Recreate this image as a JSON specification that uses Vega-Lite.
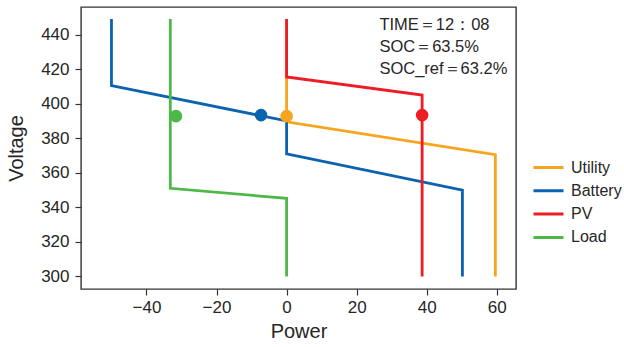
{
  "$schema": "https://vega.github.io/schema/vega-lite/v6.json",
  "width": 435,
  "height": 282,
  "autosize": "none",
  "padding": {"left": 81, "top": 7, "right": 108, "bottom": 58},
  "config": {
    "font": "Liberation Sans",
    "view": {"stroke": "#333333", "strokeWidth": 1.4},
    "axis": {
      "grid": false,
      "domain": false,
      "tickColor": "#333333",
      "tickSize": 6,
      "tickWidth": 1.2,
      "labelFont": "Liberation Sans",
      "labelFontSize": 17,
      "labelColor": "#262626",
      "titleFont": "Liberation Sans",
      "titleFontSize": 20,
      "titleFontWeight": "normal",
      "titleColor": "#262626"
    },
    "legend": {
      "labelFont": "Liberation Sans",
      "labelFontSize": 16,
      "labelColor": "#262626"
    }
  },
  "datasets": {
    "lines": [
      {"series": "Utility", "step": 0, "power": 0, "voltage": 449},
      {"series": "Utility", "step": 1, "power": 0, "voltage": 389.5},
      {"series": "Utility", "step": 2, "power": 59.6, "voltage": 370.5},
      {"series": "Utility", "step": 3, "power": 59.6, "voltage": 300},
      {"series": "Battery", "step": 0, "power": -50, "voltage": 449},
      {"series": "Battery", "step": 1, "power": -50, "voltage": 410.5},
      {"series": "Battery", "step": 2, "power": 0, "voltage": 390},
      {"series": "Battery", "step": 3, "power": 0, "voltage": 371},
      {"series": "Battery", "step": 4, "power": 50.2, "voltage": 350},
      {"series": "Battery", "step": 5, "power": 50.2, "voltage": 300},
      {"series": "PV", "step": 0, "power": 0, "voltage": 449},
      {"series": "PV", "step": 1, "power": 0, "voltage": 415.5},
      {"series": "PV", "step": 2, "power": 38.7, "voltage": 405},
      {"series": "PV", "step": 3, "power": 38.7, "voltage": 300},
      {"series": "Load", "step": 0, "power": -33.2, "voltage": 449},
      {"series": "Load", "step": 1, "power": -33.2, "voltage": 351},
      {"series": "Load", "step": 2, "power": 0, "voltage": 345.2},
      {"series": "Load", "step": 3, "power": 0, "voltage": 300}
    ],
    "points": [
      {"series": "Utility", "power": 0, "voltage": 392.8},
      {"series": "Battery", "power": -7.3, "voltage": 393.4},
      {"series": "PV", "power": 38.7, "voltage": 393.4},
      {"series": "Load", "power": -31.6, "voltage": 392.8}
    ],
    "note": [
      {"lines": ["TIME＝12：08", "SOC＝63.5%", "SOC_ref＝63.2%"]}
    ]
  },
  "layer": [
    {
      "data": {"name": "lines"},
      "mark": {"type": "line", "strokeWidth": 2.8},
      "encoding": {
        "x": {
          "field": "power",
          "type": "quantitative",
          "title": "Power",
          "scale": {"domain": [-58.7, 65.5], "nice": false, "zero": false},
          "axis": {"values": [-40, -20, 0, 20, 40, 60], "labelPadding": 4, "titlePadding": 6}
        },
        "y": {
          "field": "voltage",
          "type": "quantitative",
          "title": "Voltage",
          "scale": {"domain": [292.7, 456], "nice": false, "zero": false},
          "axis": {"values": [300, 320, 340, 360, 380, 400, 420, 440], "labelPadding": 6, "titlePadding": 14}
        },
        "color": {
          "field": "series",
          "type": "nominal",
          "title": null,
          "scale": {
            "domain": ["Utility", "Battery", "PV", "Load"],
            "range": ["#F7A51E", "#0B63B0", "#EE1C25", "#4DB848"]
          },
          "legend": {
            "orient": "none",
            "legendX": 451,
            "legendY": 152,
            "symbolType": "stroke",
            "symbolSize": 900,
            "symbolStrokeWidth": 3,
            "labelOffset": 6,
            "rowPadding": 6.3,
            "clipHeight": 17
          }
        },
        "order": {"field": "step", "type": "quantitative"}
      }
    },
    {
      "data": {"name": "points"},
      "mark": {"type": "circle", "size": 160, "opacity": 1},
      "encoding": {
        "x": {"field": "power", "type": "quantitative"},
        "y": {"field": "voltage", "type": "quantitative"},
        "color": {"field": "series", "type": "nominal"}
      }
    },
    {
      "data": {"name": "note"},
      "mark": {
        "type": "text",
        "align": "left",
        "baseline": "alphabetic",
        "lineHeight": 22,
        "fontSize": 16.5,
        "font": "Liberation Sans",
        "color": "#262626"
      },
      "encoding": {
        "text": {"field": "lines"},
        "x": {"datum": 26.5, "type": "quantitative"},
        "y": {"datum": 442.5, "type": "quantitative"}
      }
    }
  ]
}
